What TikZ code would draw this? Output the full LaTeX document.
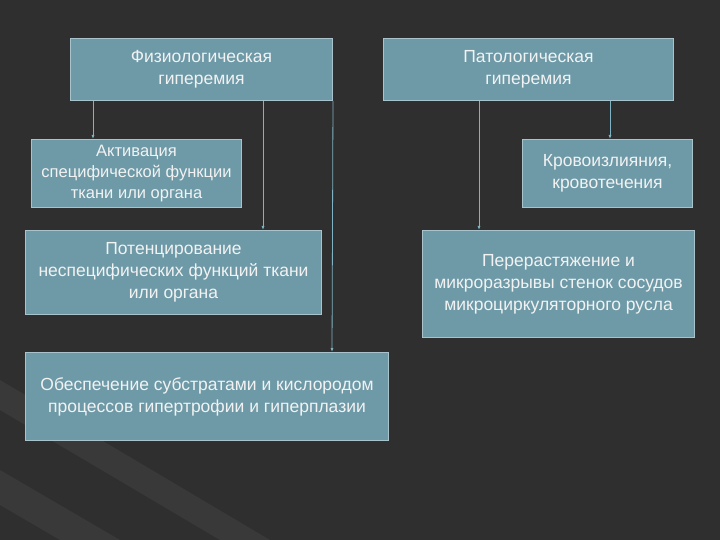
\documentclass[tikz,border=0pt]{standalone}
\usepackage{fontspec}
\setmainfont{Liberation Sans}
\usetikzlibrary{arrows.meta}
\definecolor{bg}{HTML}{2F2F2F}
\definecolor{bgl}{HTML}{393939}
\definecolor{boxf}{HTML}{6E9AA8}
\definecolor{boxd}{HTML}{A9C3CC}
\definecolor{arr}{HTML}{7FB3C4}
\definecolor{tx}{HTML}{F2F2F2}
\begin{document}
\begin{tikzpicture}[x=1pt,y=-1pt,
  bx/.style={draw=boxd,line width=1pt,fill=boxf,text=tx,align=center,inner sep=0pt,anchor=north west,font=\fontsize{17.5}{22}\selectfont},
  sm/.style={font=\fontsize{16.5}{21}\selectfont},
  ar/.style={draw=arr,line width=0.8pt,-{Latex[length=4pt,width=3pt]}}]
\fill[bg] (0,0) rectangle (720,540);
\useasboundingbox (0,0) rectangle (720,540);
\fill[bgl] (0,470) -- (120,540) -- (60,540) -- (0,505) -- cycle;
\fill[bgl] (0,380) -- (270,540) -- (220,540) -- (0,410) -- cycle;
\node[bx,minimum width=262pt,minimum height=62pt] (f) at (70,38) {Физиологическая\\гиперемия};
\node[bx,minimum width=290pt,minimum height=62pt] (p) at (383,38) {Патологическая\\гиперемия};
\node[bx,sm,minimum width=210pt,minimum height=68pt] (a) at (31,139) {Активация\\специфической функции\\ткани или органа};
\node[bx,minimum width=170pt,minimum height=68pt] (k) at (522,139) {Кровоизлияния,\\кровотечения};
\node[bx,minimum width=296pt,minimum height=84pt] (n) at (25,230) {Потенцирование\\неспецифических функций ткани\\или органа};
\node[bx,minimum width=272pt,minimum height=107pt] (r) at (422,230) {Перерастяжение и\\микроразрывы стенок сосудов\\микроциркуляторного русла};
\node[bx,minimum width=363pt,minimum height=88pt] (o) at (25,352) {Обеспечение субстратами и кислородом\\процессов гипертрофии и гиперплазии};
\draw[ar] ([xshift=23pt]f.south west) -- ([xshift=62pt]a.north west);
\draw[ar] ([xshift=193pt]f.south west) -- ([xshift=238pt]n.north west);
\draw[ar] (f.south east) -- ([xshift=307pt]o.north west);
\draw[ar] ([xshift=96pt]p.south west) -- ([xshift=57pt]r.north west);
\draw[ar] ([xshift=227pt]p.south west) -- ([xshift=88pt]k.north west);
\end{tikzpicture}
\end{document}
